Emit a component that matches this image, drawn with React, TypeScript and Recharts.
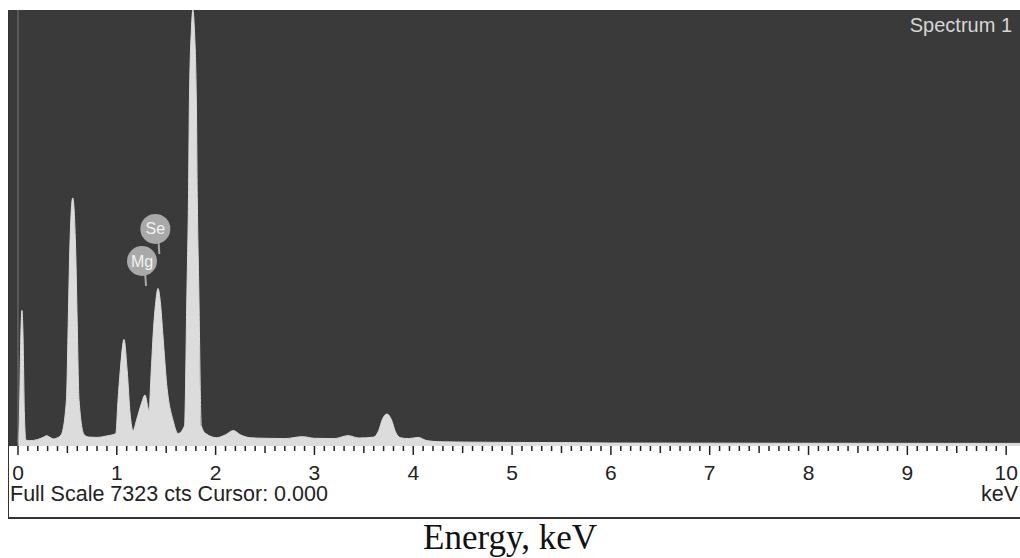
import React from "react";
import { AreaChart, Area, XAxis, YAxis, ReferenceLine, ReferenceDot } from "recharts";

// EDS spectrum, energy in keV, counts
const energy = [
  0.0, 0.015, 0.03, 0.04, 0.05, 0.065, 0.08, 0.12, 0.2, 0.26, 0.29, 0.32, 0.36, 0.4,
  0.437, 0.49, 0.509, 0.524, 0.554, 0.584, 0.599, 0.618, 0.67, 0.72, 0.8, 0.9, 0.99,
  1.012, 1.035, 1.073, 1.105, 1.135, 1.165, 1.2, 1.25, 1.285, 1.326, 1.346, 1.37,
  1.395, 1.417, 1.44, 1.468, 1.505, 1.57, 1.62, 1.685, 1.71, 1.725, 1.735, 1.755, 1.77, 1.785,
  1.805, 1.815, 1.83, 1.855, 1.9, 2.01, 2.1, 2.18, 2.25, 2.35, 2.5, 2.7, 2.88, 3.0,
  3.2, 3.34, 3.45, 3.6, 3.65, 3.69, 3.735, 3.78, 3.82, 3.87, 3.95, 4.05, 4.14, 4.3,
  4.6, 5.0, 5.5, 6.0, 7.0, 8.0, 9.0, 10.0, 10.14,
];
const counts = [
  30, 500, 1900, 2250, 1900, 500, 60, 50, 70, 110, 135, 110, 80, 100,
  150, 730, 2080, 3260, 4150, 3260, 2080, 730, 150, 110, 105, 130, 170,
  730, 1234, 1760, 1234, 500, 220, 400, 680, 820, 560, 1150, 1900,
  2400, 2620, 2400, 1800, 1000, 389, 170, 300, 2600, 4100, 5800, 7000, 7323, 7000,
  5800, 4100, 2600, 300, 170, 100, 150, 220, 150, 100, 90, 85, 118, 90,
  85, 135, 95, 110, 220, 420, 500, 400, 200, 100, 85, 105, 50, 30,
  25, 20, 18, 10, 8, 6, 5, 4, 4,
];

const majorTicks = [0, 1, 2, 3, 4, 5, 6, 7, 8, 9, 10];
const minorTicks = Array.from({ length: 101 }, (_, i) => i / 10);

const markerLabels = ["Se", "Mg"];
const markerEnergy = [1.39, 1.255];
const markerCounts = [3625, 3084];

const data = energy.map((e, i) => ({ e, c: counts[i] }));

const SANS = "'Liberation Sans', Arial, sans-serif";

function Tick(props: any) {
  const { x, y, payload } = props;
  const v = payload.value;
  const isMajor = Math.abs(v - Math.round(v)) < 1e-6;
  const isMid = !isMajor && Math.abs(v * 2 - Math.round(v * 2)) < 1e-6;
  const len = isMajor ? 9 : isMid ? 7 : 5;
  return (
    <g>
      <line x1={x} y1={y} x2={x} y2={y + len} stroke="#222" strokeWidth={1.5} />
      {isMajor && majorTicks.includes(Math.round(v)) && (
        <text x={x} y={y + 34} textAnchor="middle" fontSize={21} fontFamily={SANS} fill="#222">
          {Math.round(v)}
        </text>
      )}
    </g>
  );
}

function Marker(props: any) {
  const { cx, cy, label } = props;
  return (
    <g>
      <line x1={cx + 3} y1={cy + 10} x2={cx + 4} y2={cy + 25} stroke="#a8a8a8" strokeWidth={2} />
      <circle cx={cx} cy={cy} r={15} fill="#a9a9a9" />
      <text x={cx} y={cy + 5.5} textAnchor="middle" fontSize={16} fontFamily={SANS} fill="#f2f2f2">
        {label}
      </text>
    </g>
  );
}

export default function App() {
  return (
    <div style={{ position: "absolute", left: 0, top: 0, width: 1020, height: 558, background: "#fff", overflow: "hidden" }}>
      <div style={{ position: "absolute", left: 8, top: 10, width: 1012, height: 436, background: "#3a3a3a" }} />
      <div style={{ position: "absolute", left: 8, top: 10, width: 1012, height: 507, borderLeft: "1px solid #333", borderBottom: "2px solid #333" }} />
      <div style={{ position: "absolute", left: 0, top: 0 }}>
        <AreaChart width={1020} height={518} data={data} margin={{ top: 10, right: 0, bottom: 0, left: 8 }}>
          <XAxis
            dataKey="e"
            type="number"
            domain={[-0.101, 10.14]}
            allowDataOverflow
            ticks={minorTicks}
            interval={0}
            tickSize={0}
            tickMargin={0}
            axisLine={false}
            tickLine={false}
            height={72}
            tick={<Tick />}
          />
          <YAxis hide type="number" domain={[-40, 7323]} allowDataOverflow />
          <ReferenceLine x={0} stroke="#787878" strokeWidth={1} />
          <Area
            type="monotone"
            dataKey="c"
            baseValue="dataMin"
            stroke="#dcdcdc"
            strokeWidth={1}
            fill="#dcdcdc"
            fillOpacity={1}
            dot={false}
            activeDot={false}
            isAnimationActive={false}
          />
          {markerLabels.map((m, i) => (
            <ReferenceDot
              key={m}
              x={markerEnergy[i]}
              y={markerCounts[i]}
              shape={(p: any) => <Marker {...p} label={m} />}
            />
          ))}
        </AreaChart>
      </div>
      <div style={{ position: "absolute", right: 8, top: 15, fontFamily: SANS, fontSize: 20, lineHeight: "20px", color: "#d6d6d6" }}>
        Spectrum 1
      </div>
      <div style={{ position: "absolute", left: 10, top: 484, fontFamily: SANS, fontSize: 21.5, lineHeight: "21.5px", color: "#222" }}>
        Full Scale 7323 cts Cursor: 0.000
      </div>
      <div style={{ position: "absolute", right: 2, top: 484, fontFamily: SANS, fontSize: 21.5, lineHeight: "21.5px", color: "#222" }}>
        keV
      </div>
      <div style={{ position: "absolute", left: 0, width: 1020, textAlign: "center", top: 520, fontFamily: "'Liberation Serif', 'Times New Roman', serif", fontSize: 35, lineHeight: "35px", color: "#111" }}>
        Energy, keV
      </div>
    </div>
  );
}
